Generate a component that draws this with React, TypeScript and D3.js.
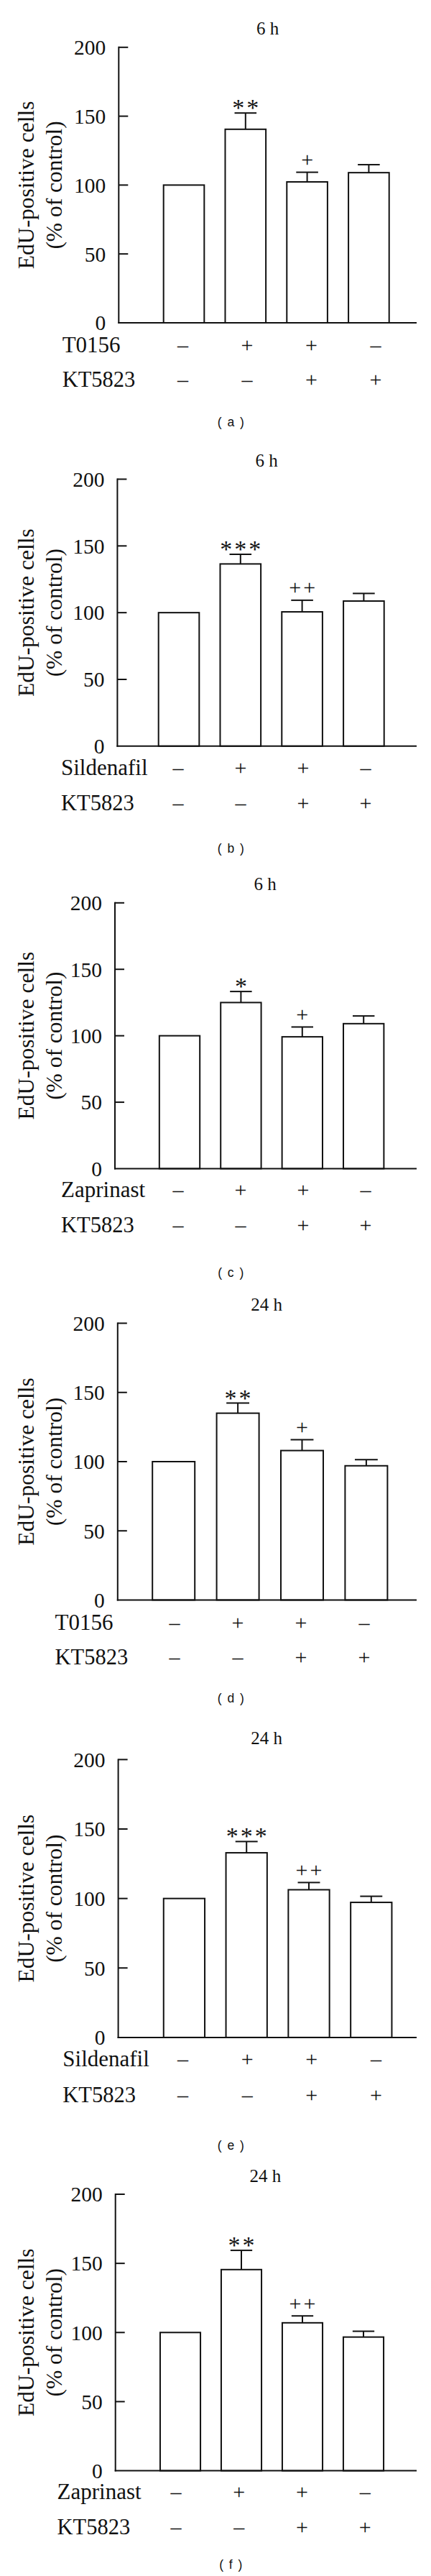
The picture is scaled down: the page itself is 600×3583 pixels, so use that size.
import React from "react";
import * as d3 from "d3";

// ---------- data ----------
const panelLetters = ["a", "b", "c", "d", "e", "f"];
const timeTitles = ["6 h", "6 h", "6 h", "24 h", "24 h", "24 h"];
const drugNames = ["T0156", "Sildenafil", "Zaprinast", "T0156", "Sildenafil", "Zaprinast"];
const inhibitorName = "KT5823";
const groups = ["control", "drug", "drug+KT5823", "KT5823"];
const drugSigns = ["–", "+", "+", "–"];
const inhibitorSigns = ["–", "–", "+", "+"];
const yTicks = [0, 50, 100, 150, 200];
const yAxisTitle1 = "EdU-positive cells";
const yAxisTitle2 = "(% of control)";

const meansA = [100, 140.5, 102.3, 109];
const semA = [0, 11.8, 7, 5.8];
const marksA = ["", "**", "+", ""];

const meansB = [100, 136.5, 100.6, 108.7];
const semB = [0, 7.2, 8.7, 5.7];
const marksB = ["", "***", "++", ""];

const meansC = [100, 125, 99.2, 109.1];
const semC = [0, 8.3, 7.4, 5.8];
const marksC = ["", "*", "+", ""];

const meansD = [100, 135, 108, 97];
const semD = [0, 7.3, 7.9, 4.4];
const marksD = ["", "**", "+", ""];

const meansE = [100, 132.9, 106.3, 97.2];
const semE = [0, 8.1, 5.2, 4.4];
const marksE = ["", "***", "++", ""];

const meansF = [100, 145.5, 107, 96.7];
const semF = [0, 13.9, 5, 4.2];
const marksF = ["", "**", "++", ""];

const allMeans = [meansA, meansB, meansC, meansD, meansE, meansF];
const allSem = [semA, semB, semC, semD, semE, semF];
const allMarks = [marksA, marksB, marksC, marksD, marksE, marksF];

// ---------- layout (positions per panel) ----------
const layouts = [
  { top: 65.8, bottom: 449, axisX: 165.3, c1: 256, step: 85.8, s0: 254.5, s1: 523, labelX: 86.7, titleX: 372.5, titleY: 48.3, row1: 490, row2: 538, capY: 593 },
  { top: 666.5, bottom: 1037.8, axisX: 163.4, c1: 249, step: 85.8, s0: 248, s1: 509, labelX: 85, titleX: 371, titleY: 649.3, row1: 1078, row2: 1126.5, capY: 1186 },
  { top: 1255.8, bottom: 1625.5, axisX: 160, c1: 250, step: 85.4, s0: 248, s1: 509, labelX: 85, titleX: 369, titleY: 1237.8, row1: 1664.5, row2: 1713.5, capY: 1776 },
  { top: 1840.5, bottom: 2225.5, axisX: 163.8, c1: 241.7, step: 89.4, s0: 243, s1: 507, labelX: 76.5, titleX: 371, titleY: 1822.5, row1: 2266.5, row2: 2315, capY: 2368 },
  { top: 2447.4, bottom: 2833.9, axisX: 164.6, c1: 256.4, step: 86.8, s0: 254.5, s1: 523.5, labelX: 87.3, titleX: 371, titleY: 2426.4, row1: 2874, row2: 2924, capY: 2990 },
  { top: 3052, bottom: 3436.6, axisX: 160.7, c1: 251, step: 85, s0: 245, s1: 508.2, labelX: 79.6, titleX: 369.3, titleY: 3034.8, row1: 3476, row2: 3525, capY: 3573 },
];

const SERIF = "'Liberation Serif', 'Times New Roman', serif";
const SANS = "'Liberation Sans', Arial, sans-serif";
const AXIS_RIGHT = 580;
const INK = "#111";

function Panel({ idx }: { idx: number }) {
  const L = layouts[idx];
  const means = allMeans[idx];
  const sem = allSem[idx];
  const marks = allMarks[idx];

  const y = d3.scaleLinear().domain([0, 200]).range([L.bottom, L.top]);
  const x = d3
    .scaleBand<string>()
    .domain(groups)
    .range([L.c1 - L.step / 2, L.c1 + 3.5 * L.step])
    .paddingInner(0.34)
    .paddingOuter(0.17);
  const sx = d3.scalePoint<string>().domain(groups).range([L.s0, L.s1]);
  const bw = x.bandwidth();
  const capW = bw * 0.54;
  const cy = (L.top + L.bottom) / 2;
  const markSpacing = 20;

  return (
    <g>
      {/* title */}
      <text x={L.titleX} y={L.titleY} textAnchor="middle" fontFamily={SERIF} fontSize={25} fill={INK}>
        {timeTitles[idx]}
      </text>

      {/* y axis title */}
      <g transform={`translate(46.5,${cy}) rotate(-90)`}>
        <text textAnchor="middle" fontFamily={SERIF} fontSize={31.5} fill={INK}>{yAxisTitle1}</text>
      </g>
      <g transform={`translate(86,${cy}) rotate(-90)`}>
        <text textAnchor="middle" fontFamily={SERIF} fontSize={31.5} fill={INK}>{yAxisTitle2}</text>
      </g>

      {/* bars */}
      {groups.map((g, i) => (
        <rect
          key={g}
          x={x(g)}
          y={y(means[i])}
          width={bw}
          height={y(0) - y(means[i])}
          fill="#fff"
          stroke={INK}
          strokeWidth={2}
        />
      ))}

      {/* error bars */}
      {groups.map((g, i) => {
        if (!sem[i]) return null;
        const cx = (x(g) as number) + bw / 2;
        const yt = y(means[i] + sem[i]);
        return (
          <g key={"e" + g} stroke={INK} strokeWidth={2}>
            <line x1={cx} x2={cx} y1={y(means[i])} y2={yt} />
            <line x1={cx - capW / 2} x2={cx + capW / 2} y1={yt} y2={yt} />
          </g>
        );
      })}

      {/* significance marks */}
      {groups.map((g, i) => {
        const m = marks[i];
        if (!m) return null;
        const cx = (x(g) as number) + bw / 2;
        const center = y(means[i] + sem[i]) - 15;
        const chars = m.split("");
        return (
          <g key={"m" + g}>
            {chars.map((ch, k) => (
              <text
                key={k}
                x={cx + (k - (chars.length - 1) / 2) * markSpacing}
                y={center + (ch === "*" ? 19 : 7.6)}
                textAnchor="middle"
                fontFamily={SERIF}
                fontSize={ch === "*" ? 34 : 30}
                fill={INK}
              >
                {ch}
              </text>
            ))}
          </g>
        );
      })}

      {/* axes */}
      <line x1={L.axisX} x2={L.axisX} y1={y(200) - 1} y2={y(0) + 1} stroke={INK} strokeWidth={2} />
      <line x1={L.axisX - 1} x2={AXIS_RIGHT} y1={y(0)} y2={y(0)} stroke={INK} strokeWidth={2} />
      {yTicks.map((t) => (
        <g key={t}>
          {t > 0 && <line x1={L.axisX} x2={L.axisX + 13} y1={y(t)} y2={y(t)} stroke={INK} strokeWidth={2} />}
          <text
            x={L.axisX - 18}
            y={y(t) + 10.3}
            textAnchor="end"
            fontFamily={SERIF}
            fontSize={29.5}
            fill={INK}
          >
            {t}
          </text>
        </g>
      ))}

      {/* treatment rows */}
      <text x={L.labelX} y={L.row1} fontFamily={SERIF} fontSize={31} fill={INK}>{drugNames[idx]}</text>
      <text x={L.labelX} y={L.row2} fontFamily={SERIF} fontSize={30.5} fill={INK}>{inhibitorName}</text>
      {groups.map((g, i) => (
        <g key={"s" + g}>
          <text x={sx(g)} y={L.row1} textAnchor="middle" fontFamily={SERIF} fontSize={30} fill={INK}>{drugSigns[i]}</text>
          <text x={sx(g)} y={L.row2} textAnchor="middle" fontFamily={SERIF} fontSize={30} fill={INK}>{inhibitorSigns[i]}</text>
        </g>
      ))}

      {/* caption */}
      <text x={322} y={L.capY} textAnchor="middle" fontFamily={SANS} fontSize={17.5} letterSpacing={1.5} fill={INK}>
        {`( ${panelLetters[idx]} )`}
      </text>
    </g>
  );
}

export default function App() {
  return (
    <div style={{ position: "absolute", left: 0, top: 0, width: 600, height: 3583, background: "#fff" }}>
      <svg width={600} height={3583} style={{ display: "block" }}>
        <rect x={0} y={0} width={600} height={3583} fill="#fff" />
        {panelLetters.map((_, i) => (
          <Panel key={i} idx={i} />
        ))}
      </svg>
    </div>
  );
}
